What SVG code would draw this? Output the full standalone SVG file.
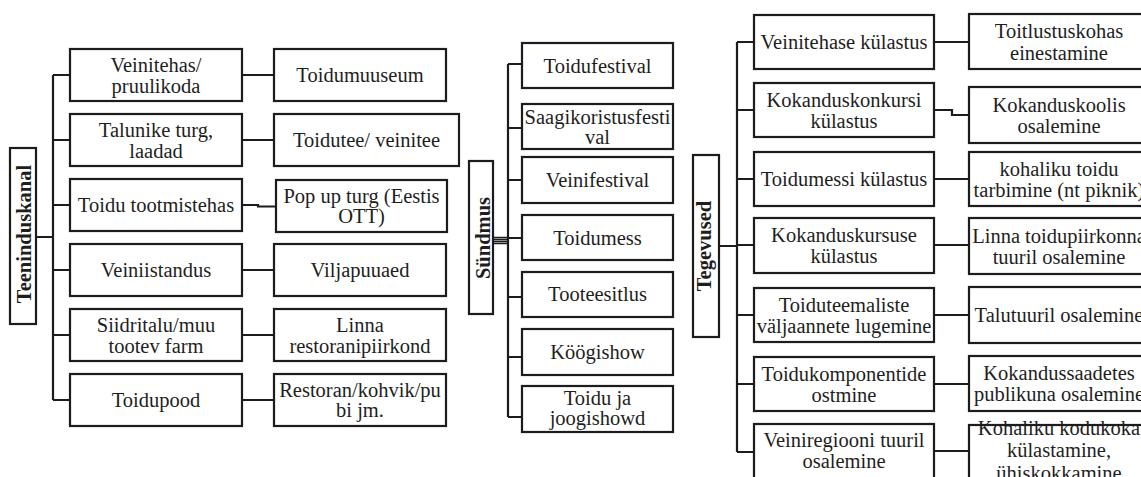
<svg xmlns="http://www.w3.org/2000/svg" width="1141" height="477" viewBox="0 0 1141 477">
  <style>
    .box { fill: #ffffff; stroke: #1c1c1c; stroke-width: 2.2; }
    .lbl { font-family: "Liberation Serif", "Times New Roman", serif; font-size: 20.5px; fill: #1e1e1e; text-anchor: middle; }
    .root { font-weight: bold; }
    .conn { fill: none; stroke: #1c1c1c; stroke-width: 2.2; }
    .thin { fill: none; stroke: #1c1c1c; stroke-width: 1.4; }
  </style>
  <rect width="1141" height="477" fill="#ffffff"/>

  <!-- connectors -->
  <g id="connectors">
    <!-- Teeninduskanal -->
    <path class="conn" d="M36 237H53M53 75V400M53 75H70M53 140H70M53 205H70M53 270H70M53 335H70M53 400H70"/>
    <path class="conn" d="M242 75H274M242 140H274M242 205H258V206.5H276M242 270H274M242 335H274M242 400H274"/>
    <!-- Sündmus -->
    <path class="thin" d="M493 237.5H508M493 239.5H508M493 241.5H508M493 243.5H508"/>
    <path class="conn" d="M508 64V417M508 64H522M508 128H522M508 180H522M508 238H522M508 297H522M508 357H522M508 417H522"/>
    <!-- Tegevused -->
    <path class="conn" d="M719 246H737M737 42V452M737 42H754M737 110H754M737 179H754M737 245H754M737 315H754M737 384H754M737 452H754"/>
    <path class="conn" d="M934 42H969M934 110H952V115H969M934 179H969M934 245H969M934 315H969M934 384H969M934 451H969"/>
  </g>

  <!-- Teeninduskanal -->
  <g id="teeninduskanal">
    <rect class="box" x="10" y="148" width="26" height="176"/>
    <text class="lbl root" transform="translate(31 234) rotate(-90)">Teeninduskanal</text>
  </g>
  <g id="veinitehas">
    <rect class="box" x="70" y="49" width="172" height="52"/>
    <text class="lbl" x="156" y="72">Veinitehas/</text>
    <text class="lbl" x="156" y="93">pruulikoda</text>
  </g>
  <g id="talunike-turg">
    <rect class="box" x="70" y="114" width="172" height="52"/>
    <text class="lbl" x="156" y="137">Talunike turg,</text>
    <text class="lbl" x="156" y="158">laadad</text>
  </g>
  <g id="toidu-tootmistehas">
    <rect class="box" x="70" y="179" width="172" height="52"/>
    <text class="lbl" x="156" y="212">Toidu tootmistehas</text>
  </g>
  <g id="veiniistandus">
    <rect class="box" x="70" y="244" width="172" height="52"/>
    <text class="lbl" x="156" y="277">Veiniistandus</text>
  </g>
  <g id="siidritalu">
    <rect class="box" x="70" y="309" width="172" height="52"/>
    <text class="lbl" x="156" y="332">Siidritalu/muu</text>
    <text class="lbl" x="156" y="353">tootev farm</text>
  </g>
  <g id="toidupood">
    <rect class="box" x="70" y="374" width="172" height="52"/>
    <text class="lbl" x="156" y="407">Toidupood</text>
  </g>

  <g id="toidumuuseum">
    <rect class="box" x="274" y="49" width="172" height="52"/>
    <text class="lbl" x="360" y="82">Toidumuuseum</text>
  </g>
  <g id="toidutee">
    <rect class="box" x="274" y="114" width="185" height="52"/>
    <text class="lbl" x="366.5" y="147">Toidutee/ veinitee</text>
  </g>
  <g id="pop-up-turg">
    <rect class="box" x="276" y="180" width="171" height="52"/>
    <text class="lbl" x="361.5" y="203">Pop up turg (Eestis</text>
    <text class="lbl" x="361.5" y="223">OTT)</text>
  </g>
  <g id="viljapuuaed">
    <rect class="box" x="274" y="244" width="172" height="52"/>
    <text class="lbl" x="360" y="277">Viljapuuaed</text>
  </g>
  <g id="linna-restoranipiirkond">
    <rect class="box" x="274" y="309" width="172" height="52"/>
    <text class="lbl" x="360" y="332">Linna</text>
    <text class="lbl" x="360" y="353">restoranipiirkond</text>
  </g>
  <g id="restoran">
    <rect class="box" x="274" y="374" width="172" height="52"/>
    <text class="lbl" x="360" y="397">Restoran/kohvik/pu</text>
    <text class="lbl" x="360" y="417">bi jm.</text>
  </g>

  <!-- Sündmus -->
  <g id="syndmus">
    <rect class="box" x="469" y="161" width="24" height="153"/>
    <text class="lbl root" transform="translate(490 238) rotate(-90)">Sündmus</text>
  </g>
  <g id="toidufestival">
    <rect class="box" x="522" y="43" width="151" height="45"/>
    <text class="lbl" x="597.5" y="73">Toidufestival</text>
  </g>
  <g id="saagikoristusfestival">
    <rect class="box" x="522" y="104" width="151" height="45"/>
    <text class="lbl" x="597.5" y="124">Saagikoristusfesti</text>
    <text class="lbl" x="597.5" y="144">val</text>
  </g>
  <g id="veinifestival">
    <rect class="box" x="522" y="157" width="151" height="46"/>
    <text class="lbl" x="597.5" y="187">Veinifestival</text>
  </g>
  <g id="toidumess">
    <rect class="box" x="522" y="215" width="151" height="45"/>
    <text class="lbl" x="597.5" y="245">Toidumess</text>
  </g>
  <g id="tooteesitlus">
    <rect class="box" x="522" y="272" width="151" height="45"/>
    <text class="lbl" x="597.5" y="301">Tooteesitlus</text>
  </g>
  <g id="kooogishow">
    <rect class="box" x="522" y="329" width="151" height="46"/>
    <text class="lbl" x="597.5" y="359">Köögishow</text>
  </g>
  <g id="toidu-ja-joogishowd">
    <rect class="box" x="522" y="386" width="151" height="46"/>
    <text class="lbl" x="597.5" y="405">Toidu ja</text>
    <text class="lbl" x="597.5" y="425">joogishowd</text>
  </g>

  <!-- Tegevused -->
  <g id="tegevused">
    <rect class="box" x="693" y="155" width="26" height="182"/>
    <text class="lbl root" transform="translate(711 246) rotate(-90)">Tegevused</text>
  </g>
  <g id="veinitehase-kylastus">
    <rect class="box" x="754" y="15" width="180" height="54"/>
    <text class="lbl" x="844" y="49">Veinitehase külastus</text>
  </g>
  <g id="kokanduskonkursi-kylastus">
    <rect class="box" x="754" y="83" width="180" height="54"/>
    <text class="lbl" x="844" y="107">Kokanduskonkursi</text>
    <text class="lbl" x="844" y="128">külastus</text>
  </g>
  <g id="toidumessi-kylastus">
    <rect class="box" x="754" y="152" width="180" height="54"/>
    <text class="lbl" x="844" y="186">Toidumessi külastus</text>
  </g>
  <g id="kokanduskursuse-kylastus">
    <rect class="box" x="754" y="218" width="180" height="55"/>
    <text class="lbl" x="844" y="242">Kokanduskursuse</text>
    <text class="lbl" x="844" y="263">külastus</text>
  </g>
  <g id="valjaannete-lugemine">
    <rect class="box" x="754" y="288" width="180" height="54"/>
    <text class="lbl" x="844" y="312">Toiduteemaliste</text>
    <text class="lbl" x="844" y="333">väljaannete lugemine</text>
  </g>
  <g id="toidukomponentide-ostmine">
    <rect class="box" x="754" y="357" width="180" height="54"/>
    <text class="lbl" x="844" y="381">Toidukomponentide</text>
    <text class="lbl" x="844" y="402">ostmine</text>
  </g>
  <g id="veiniregiooni-tuur">
    <rect class="box" x="754" y="424" width="180" height="70"/>
    <text class="lbl" x="844" y="447">Veiniregiooni tuuril</text>
    <text class="lbl" x="844" y="468">osalemine</text>
  </g>

  <g id="toitlustuskohas">
    <rect class="box" x="969" y="14" width="200" height="55"/>
    <text class="lbl" x="1059" y="38">Toitlustuskohas</text>
    <text class="lbl" x="1059" y="60">einestamine</text>
  </g>
  <g id="kokanduskoolis">
    <rect class="box" x="969" y="87" width="200" height="56"/>
    <text class="lbl" x="1059" y="112">Kokanduskoolis</text>
    <text class="lbl" x="1059" y="133">osalemine</text>
  </g>
  <g id="kohaliku-toidu">
    <rect class="box" x="969" y="152" width="200" height="54"/>
    <text class="lbl" x="1059" y="176">kohaliku toidu</text>
    <text class="lbl" x="1059" y="197">tarbimine (nt piknik)</text>
  </g>
  <g id="linna-toidupiirkond">
    <rect class="box" x="969" y="218" width="200" height="56"/>
    <text class="lbl" x="1059" y="243">Linna toidupiirkonna</text>
    <text class="lbl" x="1059" y="264">tuuril osalemine</text>
  </g>
  <g id="talutuur">
    <rect class="box" x="969" y="287" width="200" height="56"/>
    <text class="lbl" x="1059" y="322">Talutuuril osalemine</text>
  </g>
  <g id="kokandussaated">
    <rect class="box" x="969" y="356" width="200" height="55"/>
    <text class="lbl" x="1059" y="380">Kokandussaadetes</text>
    <text class="lbl" x="1059" y="401">publikuna osalemine</text>
  </g>
  <g id="kodukokk">
    <rect class="box" x="969" y="425" width="200" height="70"/>
    <text class="lbl" x="1059" y="435">Kohaliku kodukoka</text>
    <text class="lbl" x="1059" y="457">külastamine,</text>
    <text class="lbl" x="1059" y="480">ühiskokkamine</text>
  </g>
</svg>
